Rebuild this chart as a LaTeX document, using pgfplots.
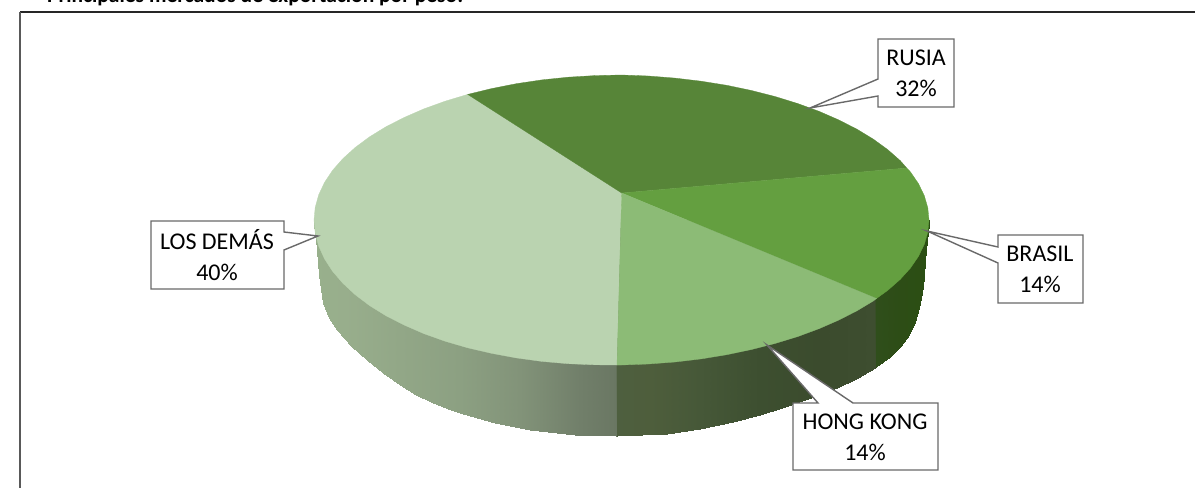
\documentclass[border=0pt]{standalone}
\usepackage{fontspec}
\setmainfont{Carlito}
\usepackage{pgfplots}
\pgfplotsset{compat=1.18}

\definecolor{rusia}{RGB}{87,133,56}
\definecolor{brasil}{RGB}{100,159,64}
\definecolor{hongkong}{RGB}{140,187,118}
\definecolor{losdemas}{RGB}{186,211,176}
\definecolor{callout}{RGB}{105,105,105}

\tikzset{lab/.style={font=\fontsize{24}{31}\selectfont, align=center, text=black, inner sep=0pt}}

% side wall shading runs left to right, positions are image x
\pgfplotsset{colormap={wall}{
  rgb255(314)=(152,176,140) rgb255(345)=(152,174,140) rgb255(400)=(146,167,135)
  rgb255(460)=(140,160,130) rgb255(520)=(130,147,121) rgb255(580)=(113,127,106)
  rgb255(616)=(106,119,99) rgb255(617)=(78,95,63) rgb255(650)=(78,94,60)
  rgb255(700)=(70,88,56) rgb255(760)=(61,79,48) rgb255(820)=(59,75,45)
  rgb255(875)=(62,78,48) rgb255(876)=(47,78,27) rgb255(900)=(45,77,22)
  rgb255(929)=(43,79,19)
}}

\begin{document}
\begin{tikzpicture}
\useasboundingbox (0,0) rectangle (1195pt,488pt);
\clip (0,0) rectangle (1195pt,488pt);
\begin{axis}[
  at={(0,0)}, anchor=south west,
  scale only axis, width=1195pt, height=488pt,
  xmin=0, xmax=1195, ymin=0, ymax=488,
  y dir=reverse,
  axis lines=none,
  clip=false,
]

% frame
\addplot[draw=black!85, line width=2.4pt] coordinates {(20,12) (1195,12)};
\addplot[draw=black!65, line width=2pt] coordinates {(20,12) (20,488)};

% walls, top row hidden under the top face
\addplot[surf, shader=interp, colormap name=wall, mesh/rows=2, point meta=x,
  point meta min=314, point meta max=929] coordinates {
  (314,220) (316,220) (317,220) (319,220) (323,220) (329,220) (337,220) (351,220)
  (367,220) (383,220) (400,220) (416,220) (433,220) (448,220) (463,220) (495,220)
  (530,220) (575,220) (616,220) (617,220) (667,220) (700,220) (733,220) (760,220)
  (785,220) (811,220) (837,220) (858,220) (875,220) (876,220) (890,220) (900,220)
  (909,220) (915,220) (919,220) (922,220) (924,220) (925,220) (927,220) (929,220)

  (314,225) (316,240) (317,250) (319,275) (323,303) (329,318) (337,330) (351,346)
  (367,360) (383,373) (400,385) (416,394.5) (433,403) (448,409) (463,414) (495,423)
  (530,430) (575,434.5) (616,436) (617,436) (667,433.5) (700,429) (733,422) (760,415)
  (785,407) (811,398) (837,388) (858,378) (875,368) (876,367) (890,356.5) (900,347)
  (909,335) (915,322) (919,308) (922,293) (924,277) (925,260) (927,240) (929,225)
};

% top face
\addplot[fill=losdemas, draw=losdemas, line width=0.3pt] coordinates {
  (621.7,193) (617,365) (594.7,364.8) (568.1,363.7) (541.9,361.4) (516.3,357.9)
  (491.5,353.3) (467.7,347.8) (445.1,341.2) (423.8,333.6) (404.1,325) (385.9,315.7)
  (369.6,305.6) (355.2,294.7) (342.8,283.2) (332.5,271.2) (324.5,258.8) (318.7,246.1)
  (315.2,233) (314,220) (315.2,207.4) (318.7,194.8) (324.5,182.5) (332.5,170.4)
  (342.8,158.7) (355.2,147.5) (369.6,136.8) (385.9,126.8) (404.1,117.5) (423.8,108.9)
  (445.1,101.2) (467.7,94.4)
} --cycle;
\addplot[fill=rusia, draw=rusia, line width=0.3pt] coordinates {
  (621.7,193) (467.7,94.4) (491.5,88.6) (516.3,83.7) (541.9,79.9) (568.1,77.2)
  (594.7,75.6) (621.5,75) (648.3,76) (674.9,78.1) (701.1,81.2) (726.7,85.3)
  (751.5,90.5) (775.3,96.6) (797.9,103.6) (819.2,111.4) (838.9,120) (857.1,129.3)
  (873.4,139.2) (887.8,149.7) (900.2,160.6) (906.7,168)
} --cycle;
\addplot[fill=brasil, draw=brasil, line width=0.3pt] coordinates {
  (621.7,193) (906.7,168) (910.5,172) (918.5,183.7) (924.3,195.7) (927.8,207.8)
  (929,220) (927.8,232.2) (924.3,244.3) (918.5,256.3) (910.5,268) (900.2,279.4)
  (887.8,290.3) (876.5,298.5)
} --cycle;
\addplot[fill=hongkong, draw=hongkong, line width=0.3pt] coordinates {
  (621.7,193) (876.5,298.5) (873.4,300.9) (857.1,310.7) (838.9,320) (819.2,328.6)
  (797.9,336.5) (775.3,343.4) (751.5,349.5) (726.7,354.7) (701.1,358.9) (674.9,362)
  (648.3,364) (621.5,365) (617,365)
} --cycle;

% callouts
\addplot[fill=white, draw=callout, line width=1.4pt] coordinates {
  (878,39) (954,39) (954,107) (878,107) (878,96) (810,108) (878,79)} --cycle;
\addplot[fill=white, draw=callout, line width=1.4pt] coordinates {
  (998,235) (1083,235) (1083,303) (998,303) (998,263) (927,231) (998,247)} --cycle;
\addplot[fill=white, draw=callout, line width=1.4pt] coordinates {
  (793,403) (818,403) (767,345) (853,403) (938,403) (938,470) (793,470)} --cycle;
\addplot[fill=white, draw=callout, line width=1.4pt] coordinates {
  (151,221) (284,221) (284,232) (318,236) (284,250) (284,289) (151,289)} --cycle;

\node[lab] at (axis cs:916,73) {RUSIA\\32\%};
\node[lab] at (axis cs:1040,269) {BRASIL\\14\%};
\node[lab] at (axis cs:865,437) {HONG KONG\\14\%};
\node[lab] at (axis cs:217,255) {LOS DEMÁS\\40\%};

\node[anchor=base west, inner sep=0pt, font=\fontsize{21.5}{22}\selectfont\bfseries] at (axis cs:47,2.5)
  {Principales mercados de exportación por peso:};

\end{axis}
\end{tikzpicture}
\end{document}
